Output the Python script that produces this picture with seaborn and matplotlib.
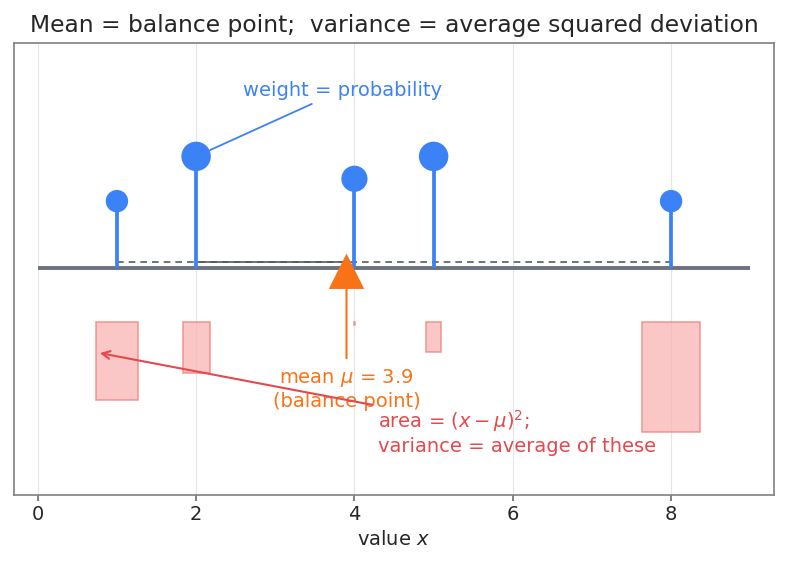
import numpy as np
import pandas as pd
import seaborn as sns
import matplotlib.pyplot as plt
from matplotlib.patches import Rectangle

# discrete distribution: values and their probabilities
values = [1, 2, 4, 5, 8]
probs = [0.15, 0.25, 0.20, 0.25, 0.15]
xticks = [0, 2, 4, 6, 8]

BLUE = "#3b82f6"
ORANGE = "#f97316"
RED = "#e5484d"
GRAY = "#6b7280"

df = pd.DataFrame({"x": values, "p": probs})
mu = float((df["x"] * df["p"]).sum())
df["h"] = 3 * df["p"]            # stem height
df["dev"] = (df["x"] - mu).abs()  # deviation from mean

sns.set_theme(style="white")
plt.rcParams["font.family"] = ["DejaVu Sans"]

fig = plt.figure(figsize=(7.87, 5.69), dpi=100)
ax = fig.add_axes([0.0178, 0.130, 0.9657, 0.7944])

ax.grid(axis="x", color="#e5e5e5", linewidth=0.8, zorder=0)
ax.set_axisbelow(True)

# lever / beam
ax.plot([0, 9], [0, 0], color=GRAY, linewidth=2.8, zorder=2, solid_capstyle="butt")
ax.plot([df["x"].min(), df["x"].max()], [0.04, 0.04], color="#555b66", linewidth=1.2,
        linestyle=(0, (4, 3)), zorder=2)
ax.plot([2, mu], [0.04, 0.04], color="#555b66", linewidth=1.2, zorder=2)

# stems and weights
ax.vlines(df["x"], 0, df["h"], color=BLUE, linewidth=2.7, zorder=3)
sns.scatterplot(data=df, x="x", y="h", size="p", sizes=(260, 450), color=BLUE,
                edgecolor="none", legend=False, ax=ax, zorder=4)

# squared deviation boxes
for xv, d in zip(df["x"], df["dev"]):
    s = 0.18 * d
    ax.add_patch(Rectangle((xv - s / 2, -0.36 - s), s, s, facecolor="#f9b4b4",
                           edgecolor="#f08080", alpha=0.75, linewidth=1.2, zorder=2))

# fulcrum at mean
ax.scatter([mu], [-0.02], marker="^", s=650, color=ORANGE, edgecolor="none", zorder=6)

ax.annotate("mean $\\mu$ = 3.9\n(balance point)", xy=(mu, -0.1), xytext=(mu, -0.81),
            ha="center", va="center", color=ORANGE, fontsize=14,
            arrowprops=dict(arrowstyle="-", color=ORANGE, lw=1.5, shrinkA=4, shrinkB=0),
            zorder=5)

ax.annotate("area = $(x-\\mu)^2$;\nvariance = average of these", xy=(0.75, -0.565),
            xytext=(4.3, -1.10), ha="left", va="center", color=RED, fontsize=14,
            arrowprops=dict(arrowstyle="->", color=RED, lw=1.5), zorder=5)

ax.annotate("weight = probability", xy=(2, 0.75), xytext=(3.85, 1.195),
            ha="center", va="center", color=BLUE, fontsize=14,
            arrowprops=dict(arrowstyle="-", color=BLUE, lw=1.3, shrinkA=2, shrinkB=11),
            zorder=5)

ax.set_xlim(-0.3, 9.3)
ax.set_ylim(-1.52, 1.51)
ax.set_xticks(xticks)
ax.set_yticks([])
ax.tick_params(axis="x", labelsize=14, bottom=True, length=4, color=GRAY)
ax.set_xlabel("value $x$", fontsize=14)
ax.set_ylabel("")
ax.set_title("Mean = balance point;  variance = average squared deviation",
             fontsize=16.8, pad=8)
for sp in ax.spines.values():
    sp.set_color("#808080")
    sp.set_linewidth(1.2)

fig.savefig("out.png", dpi=100)
